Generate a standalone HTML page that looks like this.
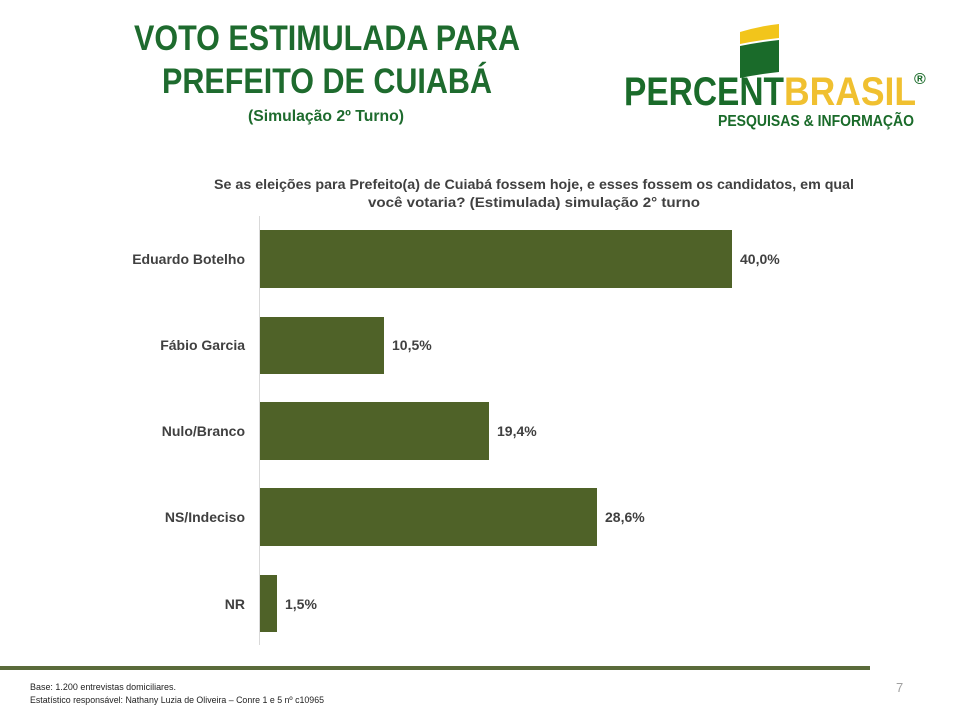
<!DOCTYPE html>
<html><head><meta charset="utf-8"><style>
html,body{margin:0;padding:0;background:#fff;}
svg{display:block;}
text{font-family:"Liberation Sans",Arial,sans-serif;}
</style></head><body>
<svg width="960" height="720" viewBox="0 0 960 720" xmlns="http://www.w3.org/2000/svg">
<rect width="960" height="720" fill="#fff"/>
<g font-weight="bold" fill="#1e6b2e" text-anchor="middle">
<text x="327" y="50" font-size="35" textLength="386" lengthAdjust="spacingAndGlyphs">VOTO ESTIMULADA PARA</text>
<text x="327" y="93" font-size="35" textLength="330" lengthAdjust="spacingAndGlyphs">PREFEITO DE CUIABÁ</text>
<text x="326" y="121" font-size="16" textLength="156" lengthAdjust="spacingAndGlyphs">(Simulação 2º Turno)</text>
</g>
<!-- logo -->
<path d="M740 32 Q760 26 779 24 L779 38 Q760 40 740 44 Z" fill="#f2c51b"/>
<path d="M740 46 Q760 42 779 40 L779 72 Q760 74 740 78 Z" fill="#1a6b2a"/>
<text x="624" y="105" font-size="40" font-weight="bold" fill="#1a6b2a" textLength="160" lengthAdjust="spacingAndGlyphs">PERCENT</text>
<text x="784" y="105" font-size="40" font-weight="bold" fill="#f0c030" textLength="132" lengthAdjust="spacingAndGlyphs">BRASIL</text>
<text x="914" y="84" font-size="16" font-weight="bold" fill="#1a6b2a">®</text>
<text x="718" y="126" font-size="16" font-weight="bold" fill="#1a6b2a" textLength="196" lengthAdjust="spacingAndGlyphs">PESQUISAS &amp; INFORMAÇÃO</text>
<!-- question -->
<g font-size="14" font-weight="bold" fill="#404040" text-anchor="middle">
<text x="534" y="189" textLength="640" lengthAdjust="spacingAndGlyphs">Se as eleições para Prefeito(a) de Cuiabá fossem hoje, e esses fossem os candidatos, em qual</text>
<text x="534" y="207" textLength="332" lengthAdjust="spacingAndGlyphs">você votaria? (Estimulada) simulação 2° turno</text>
</g>
<line x1="259.5" y1="216" x2="259.5" y2="645" stroke="#d9d9d9"/>
<g fill="#4f6228">
<rect x="260" y="230" width="472" height="58"/>
<rect x="260" y="317" width="124" height="57"/>
<rect x="260" y="402" width="229" height="58"/>
<rect x="260" y="488" width="337" height="58"/>
<rect x="260" y="575" width="17" height="57"/>
</g>
<g font-size="14" font-weight="bold" fill="#404040">
<g text-anchor="end">
<text x="245" y="264">Eduardo Botelho</text>
<text x="245" y="350">Fábio Garcia</text>
<text x="245" y="436">Nulo/Branco</text>
<text x="245" y="522">NS/Indeciso</text>
<text x="245" y="609">NR</text>
</g>
<text x="740" y="264">40,0%</text>
<text x="392" y="350">10,5%</text>
<text x="497" y="436">19,4%</text>
<text x="605" y="522">28,6%</text>
<text x="285" y="609">1,5%</text>
</g>
<rect x="0" y="666" width="870" height="4" fill="#5a6b3a"/>
<text x="896" y="692" font-size="13" fill="#a0a0a0">7</text>
<g font-size="9" fill="#222">
<text x="30" y="690" textLength="146" lengthAdjust="spacingAndGlyphs">Base: 1.200 entrevistas domiciliares.</text>
<text x="30" y="703" textLength="294" lengthAdjust="spacingAndGlyphs">Estatístico responsável: Nathany Luzia de Oliveira – Conre 1 e 5 nº c10965</text>
</g>
</svg>
</body></html>
